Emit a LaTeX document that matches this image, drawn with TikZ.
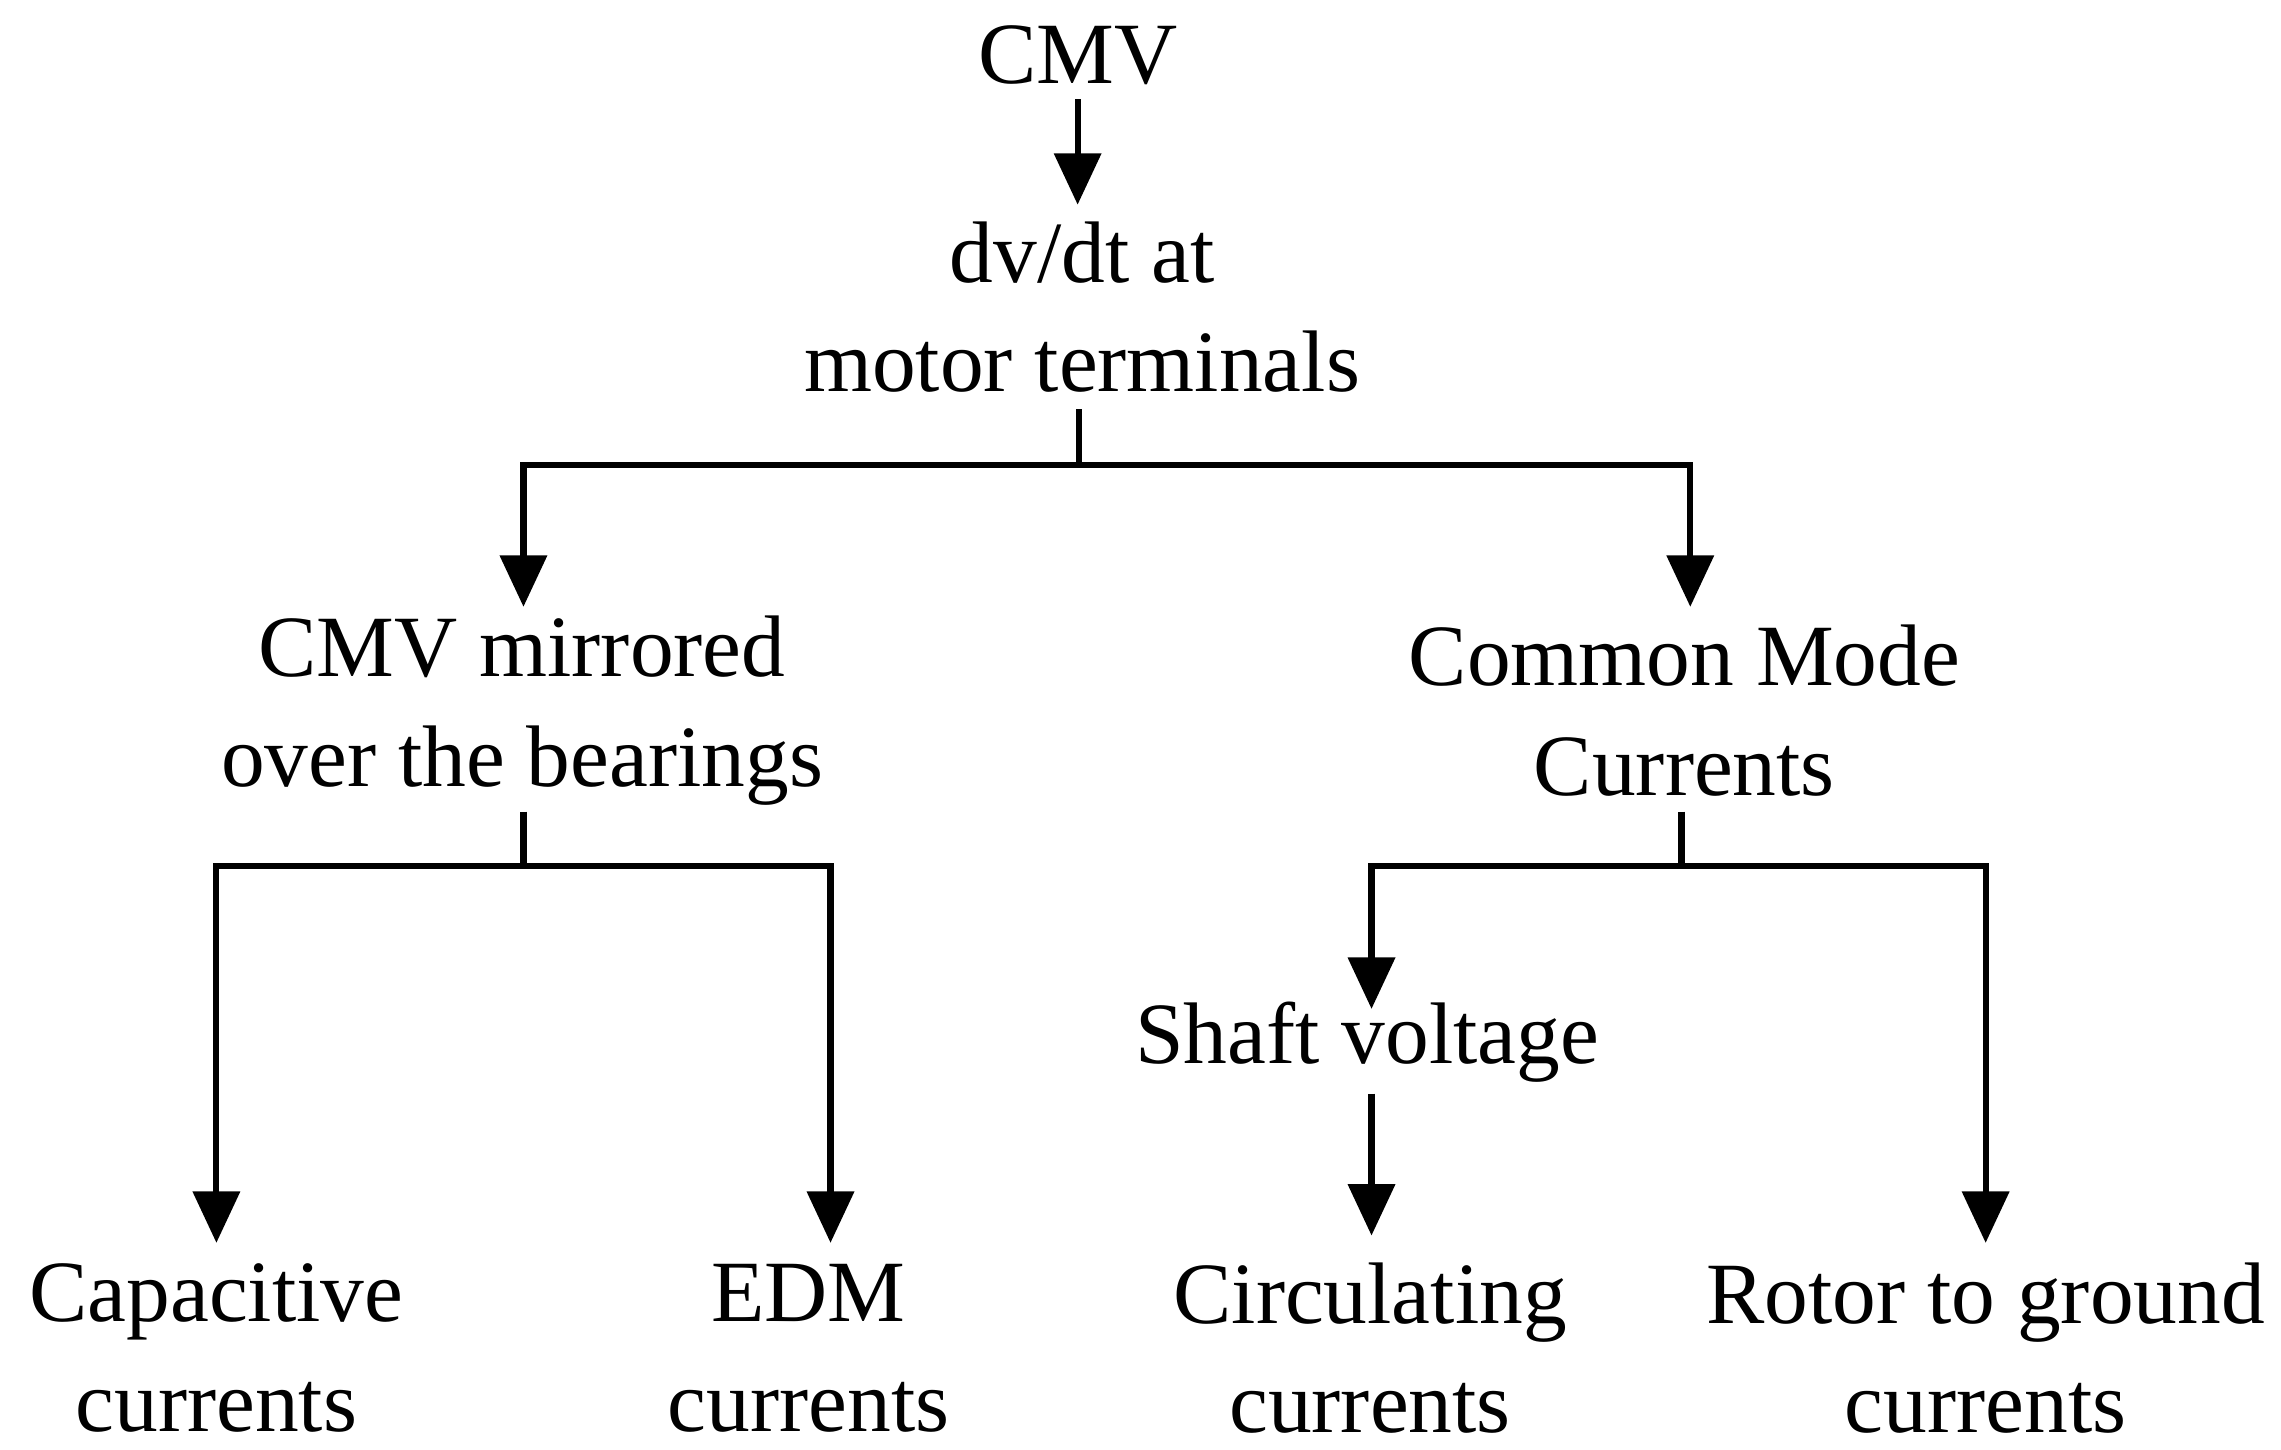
\documentclass[tikz,border=0pt]{standalone}
\usepackage{fontspec}
\setmainfont{Liberation Serif}
\usetikzlibrary{arrows.meta}
\begin{document}
\begin{tikzpicture}[x=0.01cm,y=-0.01cm,
 lbl/.style={align=center,font=\fontsize{17}{21.3}\selectfont,inner sep=0pt},
 ln/.style={line width=1.2pt},
 arr/.style={ln,-{Triangle[width=9pt,length=10pt]}}]
\useasboundingbox (0,0) rectangle (1560,991);
\node[lbl] (cmv) at (737,38) {CMV};
\node[lbl] (dv) at (740,210) {dv/dt at\\motor terminals};
\node[lbl] (mir) at (357,486) {CMV mirrored\\over the bearings};
\node[lbl] (cmc) at (1152,486) {Common Mode\\Currents};
\node[lbl] (sv) at (935,713) {Shaft voltage};
\node[lbl] (cap) at (148,922) {Capacitive\\currents};
\node[lbl] (edm) at (553,922) {EDM\\currents};
\node[lbl] (cir) at (937,922) {Circulating\\currents};
\node[lbl] (rot) at (1358,922) {Rotor to ground\\currents};
\coordinate (a0) at (737,68); \coordinate (a1) at (737,140);
\draw[arr] (a0) -- (a1);
\coordinate (b0) at (738,280); \coordinate (b1) at (738,318);
\coordinate (bl) at (358,318); \coordinate (br) at (1156,318);
\coordinate (blt) at (358,415); \coordinate (brt) at (1156,415);
\draw[ln] (b0) -- (b1);
\draw[arr] (b1) -- (bl) -- (blt);
\draw[arr] (b1) -- (br) -- (brt);
\coordinate (c0) at (358,555); \coordinate (c1) at (358,592);
\coordinate (cl) at (148,592); \coordinate (cr) at (568,592);
\coordinate (clt) at (148,850); \coordinate (crt) at (568,850);
\draw[ln] (c0) -- (c1);
\draw[arr] (c1) -- (cl) -- (clt);
\draw[arr] (c1) -- (cr) -- (crt);
\coordinate (d0) at (1150,555); \coordinate (d1) at (1150,592);
\coordinate (dl) at (938,592); \coordinate (dr) at (1358,592);
\coordinate (dlt) at (938,690); \coordinate (drt) at (1358,850);
\draw[ln] (d0) -- (d1);
\draw[arr] (d1) -- (dl) -- (dlt);
\draw[arr] (d1) -- (dr) -- (drt);
\coordinate (e0) at (938,748); \coordinate (e1) at (938,845);
\draw[arr] (e0) -- (e1);
\end{tikzpicture}
\end{document}
